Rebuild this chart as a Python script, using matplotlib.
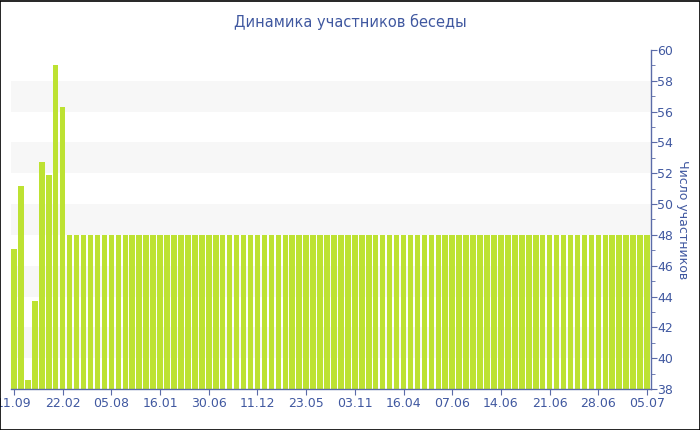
import matplotlib
matplotlib.use('Agg')
import matplotlib.pyplot as plt
from matplotlib.patches import Rectangle
from matplotlib.ticker import MultipleLocator

# chart data
first_values = [47.1, 51.2, 38.6, 43.7, 52.7, 51.9, 59.0, 56.3]
flat_values = [
    48, 48, 48, 48, 48, 48, 48, 48, 48, 48, 48, 48,
    48, 48, 48, 48, 48, 48, 48, 48, 48, 48, 48, 48,
    48, 48, 48, 48, 48, 48, 48, 48, 48, 48, 48, 48,
    48, 48, 48, 48, 48, 48, 48, 48, 48, 48, 48, 48,
    48, 48, 48, 48, 48, 48, 48, 48, 48, 48, 48, 48,
    48, 48, 48, 48, 48, 48, 48, 48, 48, 48, 48, 48,
    48, 48, 48, 48, 48, 48, 48, 48, 48, 48, 48, 48,
]
values = first_values + flat_values

tick_labels = ["11.09", "22.02", "05.08", "16.01", "30.06", "11.12", "23.05",
               "03.11", "16.04", "07.06", "14.06", "21.06", "28.06", "05.07"]
label_step = 7

title = "Динамика участников беседы"
y_title = "Число участников"

bar_color = '#bde232'
axis_color = '#5b6ba8'
text_color = '#4058a0'
band_color = '#f7f7f7'

fig = plt.figure(figsize=(7, 4.3), dpi=100)
ax = fig.add_axes([10.5 / 700, 1 - 389 / 430, 640 / 700, 339 / 430])

# alternating light bands
for lo in range(40, 58, 4):
    ax.axhspan(lo, lo + 2, color=band_color, zorder=0, lw=0)

x = list(range(len(values)))
ax.bar(x, values, width=0.8, color=bar_color, zorder=2)

ax.set_xlim(-0.5, len(values) - 0.5)
ax.set_ylim(38, 60)

ax.set_xticks(x[::label_step])
ax.set_xticklabels(tick_labels)

ax.yaxis.tick_right()
ax.yaxis.set_label_position('right')
ax.yaxis.set_major_locator(MultipleLocator(2))
ax.yaxis.set_minor_locator(MultipleLocator(1))
ax.set_ylabel(y_title, rotation=-90, labelpad=11, color=text_color, fontsize=9)

for side in ['top', 'left']:
    ax.spines[side].set_visible(False)
for side in ['bottom', 'right']:
    ax.spines[side].set_color(axis_color)
    ax.spines[side].set_linewidth(1)

ax.tick_params(axis='x', colors=axis_color, labelcolor=text_color, labelsize=9,
               length=4, pad=2)
ax.tick_params(axis='y', which='major', colors=axis_color, labelcolor=text_color,
               labelsize=9, length=4, pad=1)
ax.tick_params(axis='y', which='minor', colors=axis_color, length=3)
ax.set_facecolor('white')

fig.text(0.5, 1 - 22 / 430, title, ha='center', va='center', fontsize=10.5,
         color=text_color)

fig.patches.append(Rectangle((0.0007, 0.001), 0.9986, 0.9978, transform=fig.transFigure,
                             fill=False, edgecolor='black', linewidth=1.2))

fig.savefig('out.png', dpi=100)
